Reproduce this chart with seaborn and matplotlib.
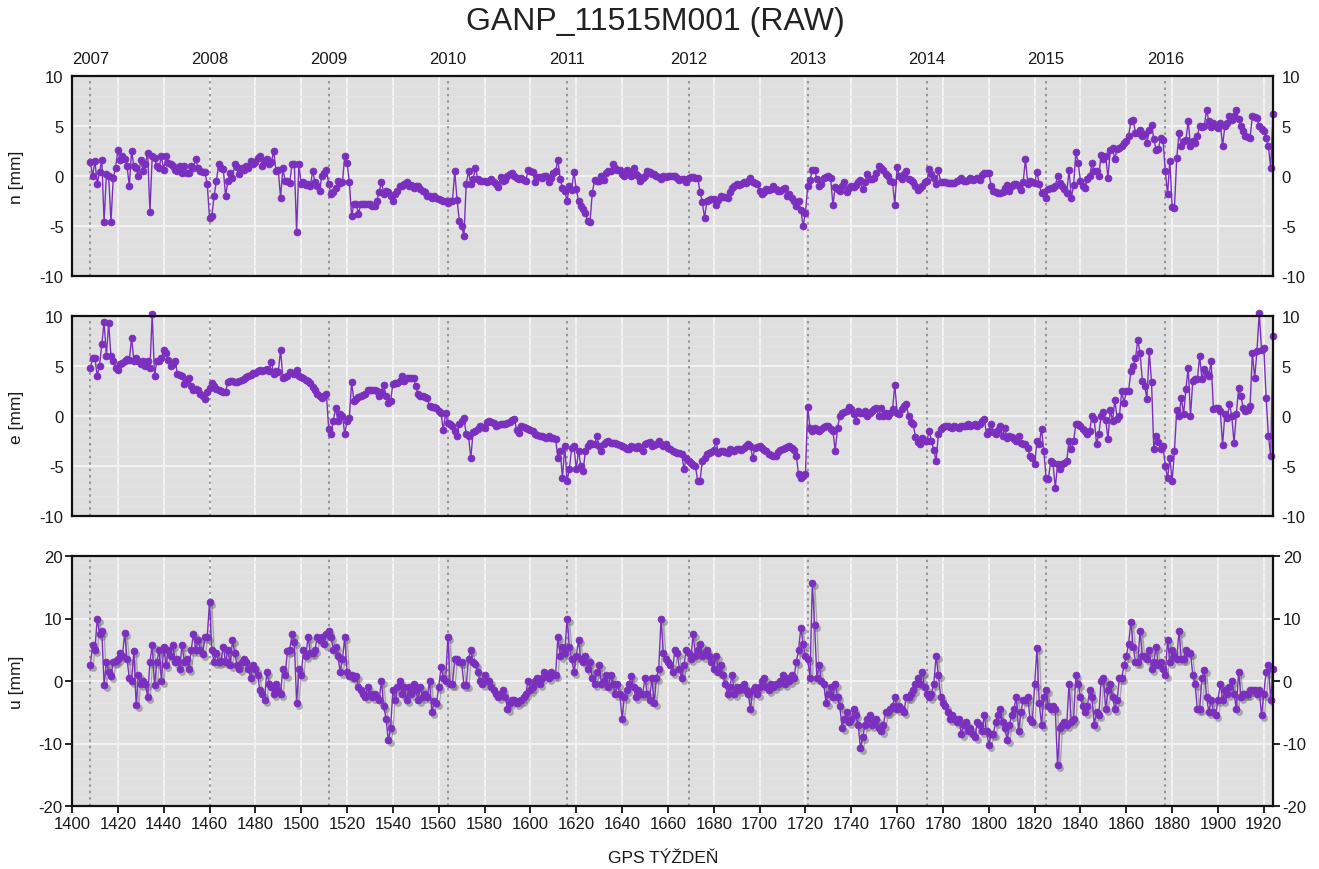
import numpy as np
import pandas as pd
import matplotlib
matplotlib.use("Agg")
import matplotlib.pyplot as plt
import matplotlib.transforms as mtransforms
import seaborn as sns

# ---------------- data (weekly, GPS weeks 1408 ... 1924) ----------------
first_week = 1408

n_mm = [
    1.4, 0.0, 1.5, -0.8, 0.4, 1.6, -4.6, 0.2, 0.0, -4.6,
    -0.2, 0.8, 2.6, 1.6, 2.0, 1.7, 1.0, -1.0, 2.5, 1.0,
    0.8, 0.0, 1.6, 0.5, 1.2, 2.3, -3.6, 2.0, 1.8, 1.0,
    0.8, 2.0, 0.6, 2.0, 1.3, 1.2, 1.0, 0.6, 0.5, 1.0,
    0.3, 1.0, 0.3, 0.3, 1.0, 0.8, 1.7, 0.8, 0.5, 0.4,
    0.4, -0.8, -4.2, -4.0, -2.0, -0.5, 1.2, 0.8, 0.7, -2.0,
    -0.5, 0.3, -0.2, 1.2, 0.9, 0.2, 0.8, 0.6, 1.0, 0.8,
    1.5, 1.2, 1.4, 1.8, 2.0, 1.0, 1.5, 1.7, 1.2, 1.4,
    2.5, 0.5, 0.6, -2.2, 0.8, -0.5, -0.5, -0.7, 1.2, 1.2,
    -5.6, 1.2, -0.8, -0.6, -0.9, -0.8, -1.0, 0.5, -0.6, -1.0,
    -1.5, 0.0, 0.3, 0.6, -0.8, -1.8, -1.6, -1.2, -0.5, -0.7,
    -0.6, 2.0, 1.3, -0.6, -4.0, -2.8, -2.8, -3.8, -2.8, -2.8,
    -2.8, -2.8, -2.8, -3.0, -3.0, -2.5, -1.6, -0.6, -1.8, -1.5,
    -1.6, -2.0, -2.5, -1.8, -1.5, -1.0, -1.0, -0.8, -0.6, -1.0,
    -0.9, -1.2, -1.0, -1.0, -1.3, -1.5, -1.6, -2.0, -2.0, -2.2,
    -2.0, -2.2, -2.3, -2.4, -2.5, -2.5, -2.7, -2.5, -2.5, 0.5,
    -2.4, -4.5, -5.0, -6.0, -0.8, 0.5, -0.8, -0.3, 0.8, -0.3,
    -0.5, -0.5, -0.5, -0.6, -0.5, -0.3, -0.6, -0.8, -1.1, -0.1,
    -0.5, -0.4, 0.0, 0.2, 0.3, 0.0, -0.2, -0.3, -0.2, -0.4,
    -0.5, 0.6, 0.5, 0.4, -0.6, -0.1, -0.1, -0.2, 0.0, 0.0,
    -0.6, -0.2, 0.3, 0.5, 1.6, -0.3, -1.2, -1.5, -2.5, -1.0,
    -1.4, 0.4, -1.3, -2.5, -3.0, -3.3, -3.7, -4.5, -4.6, -1.7,
    -0.4, -0.5, -0.5, 0.0, -0.4, 0.3, 0.5, 0.5, 1.2, 0.8,
    0.6, 0.6, 0.2, 0.0, 0.6, 0.3, 0.0, 0.8, 0.2, 0.0,
    -0.5, -0.2, 0.0, 0.5, 0.4, 0.2, 0.2, 0.0, -0.1, -0.3,
    0.0, -0.1, 0.0, 0.0, 0.0, 0.0, -0.2, -0.4, -0.3, -0.3,
    -0.6, -0.2, -0.1, -0.1, -0.2, -0.2, -1.6, -2.6, -4.2, -2.5,
    -2.4, -2.3, -2.3, -2.9, -2.4, -2.0, -2.1, -2.1, -2.2, -1.6,
    -1.2, -1.0, -0.8, -0.9, -0.8, -0.6, -0.7, -0.5, -0.2, -0.6,
    -0.7, -0.8, -1.5, -1.8, -1.6, -1.3, -1.4, -1.3, -1.0, -1.3,
    -1.5, -1.5, -1.3, -1.2, -2.0, -1.8, -2.2, -2.5, -3.0, -2.5,
    -3.4, -5.0, -3.7, -1.0, -0.4, 0.6, 0.6, -0.3, -1.0, -0.8,
    -0.2, -0.1, 0.0, -0.2, -2.9, -1.1, -1.3, -1.5, -1.0, -0.6,
    -1.6, -1.2, -1.0, -1.1, -0.9, -0.6, -0.4, -1.3, -0.6, 0.2,
    -0.3, -0.3, -0.2, 0.3, 1.0, 0.8, 0.6, 0.2, 0.0, -0.5,
    -0.6, -2.9, 0.9, 0.0, -0.3, 0.2, 0.5, -0.3, -0.4, -0.6,
    -1.0, -1.4, -1.2, -1.0, -0.6, -0.5, 0.7, 0.2, -0.2, -0.8,
    0.6, -0.6, -0.6, -0.6, -0.7, -0.7, -0.7, -0.7, -0.5, -0.4,
    -0.2, -0.5, -0.5, -0.4, -0.2, -0.4, -0.3, -0.2, -0.4, 0.1,
    0.3, 0.3, 0.3, -1.0, -1.5, -1.6, -1.7, -1.7, -1.6, -1.2,
    -0.9, -1.5, -1.0, -0.8, -0.8, -1.0, -1.4, -0.6, 1.7, -0.8,
    -0.5, -0.6, -0.7, 0.4, -0.8, -1.7, -1.6, -2.2, -1.3, -1.2,
    -1.2, -1.0, 0.0, -0.7, -1.0, -1.3, -1.7, 0.6, -2.2, -0.9,
    2.4, 1.3, -0.5, -1.0, -1.2, -0.3, 0.0, 1.3, 0.5, 0.5,
    0.0, 2.1, 1.7, 2.0, -0.2, 2.6, 2.8, 1.7, 2.7, 2.8,
    3.0, 3.3, 3.5, 4.0, 5.5, 5.6, 4.3, 4.3, 4.6, 4.0,
    4.2, 3.3, 4.6, 5.1, 3.7, 2.6, 2.7, 3.8, 3.6, 0.5,
    -1.8, 1.5, -3.1, -3.2, 1.8, 4.3, 3.0, 3.5, 3.6, 5.5,
    3.0, 3.5, 3.3, 4.0, 5.0, 4.9, 5.0, 6.6, 5.5, 4.9,
    5.3, 5.0, 4.8, 5.3, 3.0, 5.0, 5.3, 6.0, 5.6, 6.0,
    6.6, 5.7, 5.0, 4.5, 4.0, 3.9, 3.8, 6.0, 5.9, 5.8,
    5.0, 4.7, 4.5, 3.8, 3.0, 0.8, 6.2,
]

e_mm = [
    4.8, 5.8, 5.8, 4.0, 5.0, 7.2, 9.4, 6.0, 9.3, 6.0,
    5.5, 4.8, 4.6, 5.2, 5.3, 5.5, 5.7, 5.6, 7.8, 5.5,
    5.8, 5.5, 5.2, 5.5, 5.0, 5.5, 4.8, 10.2, 4.0, 5.5,
    5.5, 5.8, 6.6, 6.3, 5.6, 5.0, 5.2, 5.5, 4.2, 4.1,
    4.0, 3.2, 3.6, 3.8, 3.0, 2.6, 2.7, 2.6, 2.2, 2.0,
    1.7, 2.4, 2.8, 3.3, 3.0, 2.7, 2.6, 2.5, 2.4, 2.4,
    3.4, 3.5, 3.5, 3.4, 3.4, 3.5, 3.6, 3.7, 3.9, 4.0,
    4.1, 4.3, 4.3, 4.5, 4.6, 4.5, 4.6, 4.7, 4.5, 5.4,
    4.2, 4.5, 4.4, 6.6, 3.8, 3.9, 4.0, 4.4, 4.3, 4.2,
    4.6, 4.0, 3.9, 3.8, 3.6, 3.5, 3.3, 2.9, 2.6, 2.2,
    2.0, 1.8, 2.0, 2.2, -1.3, -1.8, -0.5, 0.8, -0.5, 0.2,
    0.0, -1.8, -0.5, -0.2, 3.4, 1.5, 1.7, 1.9, 2.0, 2.1,
    2.2, 2.6, 2.6, 2.6, 2.6, 2.5, 2.0, 2.4, 3.1, 2.0,
    1.3, 1.5, 3.2, 3.3, 3.3, 3.5, 4.0, 3.5, 3.8, 3.8,
    3.8, 3.8, 3.0, 2.2, 2.0, 2.0, 1.9, 1.8, 1.0, 0.9,
    0.9, 0.8, 0.5, 0.3, -1.4, 0.3, -0.7, -0.8, -1.0, -1.5,
    -2.0, -0.8, -0.5, -0.2, -1.8, -2.0, -4.2, -1.6, -1.5, -1.3,
    -1.0, -1.1, -1.2, -0.6, -0.5, -0.6, -0.7, -1.0, -0.9, -0.8,
    -0.8, -0.8, -0.7, -0.6, -0.4, -0.3, -1.4, -1.7, -1.0, -1.1,
    -1.2, -1.3, -1.4, -1.5, -1.8, -1.9, -2.0, -2.0, -2.1, -2.2,
    -2.0, -2.2, -2.2, -2.3, -4.2, -3.5, -6.2, -3.0, -6.5, -5.3,
    -3.2, -3.0, -5.3, -3.5, -5.0, -5.5, -3.5, -3.0, -2.7, -2.8,
    -2.8, -2.0, -3.0, -3.5, -2.8, -2.6, -2.5, -2.7, -2.7, -2.7,
    -2.8, -2.9, -3.0, -3.1, -3.3, -3.3, -3.0, -3.1, -3.2, -3.0,
    -3.2, -3.5, -2.8, -2.7, -2.6, -3.0, -2.9, -2.8, -2.5, -2.8,
    -3.0, -2.8, -3.2, -3.3, -3.5, -3.6, -3.7, -3.7, -3.8, -5.3,
    -4.2, -4.5, -4.7, -4.9, -5.0, -6.5, -6.5, -4.5, -4.2, -3.8,
    -3.7, -3.6, -3.4, -2.5, -3.7, -3.5, -3.5, -3.6, -3.7, -3.3,
    -3.4, -3.5, -3.3, -3.3, -3.4, -3.2, -3.0, -2.8, -3.0, -4.2,
    -3.2, -3.1, -3.0, -3.2, -3.4, -3.5, -3.8, -3.9, -4.0, -4.0,
    -3.6, -3.4, -3.3, -3.2, -3.1, -3.0, -3.2, -3.4, -4.0, -5.8,
    -6.2, -6.0, -5.8, 0.9, -1.2, -1.5, -1.2, -1.4, -1.5, -1.3,
    -1.1, -1.0, -1.0, -1.3, -1.5, -3.5, -1.2, 0.0, 0.3, 0.4,
    0.5, 0.9, 0.7, 0.2, -0.5, 0.5, 0.3, 0.3, 0.5, 0.0,
    0.3, 0.5, 0.7, 0.8, 0.0, 0.8, 0.0, 0.3, 0.0, 0.3,
    0.7, 3.1, 0.3, 0.2, 0.7, 1.0, 1.2, 0.0, -0.6, -0.8,
    -2.1, -2.6, -2.8, -2.2, -2.5, -2.5, -1.5, -2.5, -3.4, -4.5,
    -1.8, -1.3, -1.1, -1.0, -1.0, -1.1, -1.2, -1.0, -1.1, -1.2,
    -1.0, -1.0, -1.0, -0.8, -1.0, -0.9, -0.8, -1.0, -0.8, -0.5,
    -0.3, -1.8, -1.5, -0.8, -1.6, -1.8, -1.4, -1.0, -2.0, -1.2,
    -2.2, -2.0, -2.1, -2.3, -2.5, -2.0, -2.7, -2.8, -2.8, -3.2,
    -4.0, -4.2, -4.8, -2.5, -2.8, -1.3, -3.5, -6.2, -6.3, -4.5,
    -4.7, -7.2, -4.8, -5.3, -4.8, -4.7, -4.5, -2.5, -3.3, -2.5,
    -0.8, -0.8, -1.0, -1.3, -1.5, -1.8, -1.5, 0.0, -0.3, -2.8,
    -1.8, 0.0, 0.4, -0.4, -2.3, 0.6, -0.5, 1.6, -0.3, 0.0,
    2.5, 1.3, 2.5, 2.5, 4.5, 5.0, 5.8, 7.6, 6.3, 3.5,
    3.0, 1.7, 6.5, 3.4, -3.3, -2.0, -2.6, -3.3, -3.0, -5.0,
    -6.2, -4.2, -6.5, -3.5, 0.6, 0.0, 1.8, 0.2, 2.7, 4.8,
    0.0, 3.5, 3.7, 3.7, 6.0, 3.7, 4.7, 4.2, 4.0, 5.5,
    0.7, 0.8, 0.8, 0.5, -2.9, 0.2, -0.2, 1.2, 0.0, -2.7,
    0.2, 2.8, 2.0, 0.8, 0.5, 0.6, 1.0, 6.3, 3.8, 6.5,
    10.3, 6.6, 6.8, 1.8, -2.0, -4.0, 8.0,
]

u_mm = [
    2.5, 5.8, 5.0, 10.0, 7.5, 8.0, -0.6, 3.0, 1.5, 0.8,
    3.0, 3.2, 3.5, 4.5, 4.0, 7.7, 3.5, 0.5, 0.0, 4.8,
    -3.9, 1.0, -0.5, 0.0, -0.5, -2.5, 3.0, 5.8, -0.7, 3.0,
    5.0, 0.0, 5.5, 2.5, 5.0, 4.0, 5.8, 3.0, 3.5, 2.0,
    5.8, 3.0, 3.5, 2.0, 5.0, 7.5, 5.0, 6.5, 5.0, 4.3,
    7.0, 7.0, 12.6, 5.0, 3.0, 4.5, 3.0, 3.2, 5.5, 3.0,
    5.0, 2.5, 6.5, 4.5, 2.5, 2.0, 3.0, 3.5, 3.0, 2.0,
    0.5, 2.5, 2.0, 1.0, -1.5, -2.0, -3.0, 1.5, -0.5, -1.0,
    -2.0, -0.5, -1.5, -2.0, 2.0, 1.0, 4.8, 5.0, 7.5, 6.3,
    -3.5, 2.0, 1.0, 5.0, 4.0, 7.0, 4.5, 4.5, 5.0, 7.0,
    6.5, 7.0, 6.0, 7.5, 8.0, 7.0, 5.0, 5.5, 4.0, 1.5,
    3.5, 7.0, 1.5, 0.8, 1.0, 0.5, 0.8, -1.0, -1.5, -2.0,
    -2.5, -1.0, -2.0, -2.5, -2.0, -2.5, -3.0, 0.0, -4.0, -6.0,
    -9.5, -7.5, -1.5, -3.0, -1.0, 0.0, -2.0, -1.0, -3.0, -1.0,
    -2.0, -0.5, -1.5, -3.0, -1.0, -2.5, -2.0, -2.5, 0.0, -5.0,
    -3.2, -3.5, -1.0, 2.2, 0.5, 0.0, 7.0, -0.5, -0.5, 3.5,
    3.5, 3.0, 3.0, -0.7, -0.7, 3.5, 5.0, 3.0, 2.8, 1.5,
    0.0, -0.5, 1.0, 0.0, 0.0, -1.0, -1.5, -2.0, -2.5, -2.0,
    -1.5, -2.5, -4.5, -3.5, -3.0, -3.0, -3.5, -3.2, -3.0, -2.5,
    -2.0, 0.0, -1.5, -1.0, 0.0, 0.5, -0.5, 0.5, 1.5, 1.0,
    0.5, 1.5, 1.0, 1.0, 7.0, 4.0, 5.5, 4.5, 10.0, 5.5,
    3.5, 1.5, 4.0, 6.5, 3.5, 3.0, 4.0, 2.0, 3.0, 0.5,
    -0.5, 1.5, 2.5, -0.5, 0.0, 1.0, -1.0, 1.0, -0.5, -2.0,
    -0.5, -2.0, -6.0, -2.5, -1.5, -0.5, 0.8, -1.0, -2.5, -1.5,
    -2.0, -2.0, 0.5, -2.0, -3.0, 0.5, -3.5, 0.5, 2.0, 10.0,
    4.5, 3.5, 3.0, 2.5, 1.5, 5.0, 4.5, 2.0, 0.5, 2.5,
    5.0, 4.5, 3.5, 7.5, 4.0, 5.0, 6.0, 4.0, 4.5, 5.0,
    4.0, 3.0, 2.0, 4.0, 1.5, 2.5, 1.0, -0.5, -2.0, -1.0,
    1.0, -2.0, -1.0, -1.5, -1.0, -0.5, -1.5, -2.0, -4.5, -1.5,
    -1.0, -2.0, -1.0, 0.0, 0.5, -1.0, -1.5, -0.5, -1.0, -0.5,
    -0.5, 0.0, 1.0, -0.5, 0.5, 0.0, 1.0, 0.5, 3.0, 5.0,
    8.5, 6.0, 4.0, 3.5, 0.5, 15.7, 9.0, 0.5, 2.5, 0.0,
    -0.5, -3.5, -2.0, -1.0, -2.5, -0.5, -2.5, -4.0, -7.5, -6.0,
    -5.0, -6.5, -6.0, -4.5, -5.5, -7.0, -10.7, -9.0, -7.0, -6.0,
    -5.5, -7.0, -6.5, -6.0, -7.5, -8.0, -7.0, -5.0, -5.0, -4.5,
    -4.0, -2.5, -4.5, -4.0, -4.5, -5.0, -2.5, -2.5, -2.0, -1.5,
    -0.5, 0.5, -0.5, 1.5, -1.0, -2.0, -2.5, -2.0, -0.5, 4.0,
    1.0, -2.5, -3.5, -4.0, -5.0, -6.0, -5.5, -6.0, -6.5, -6.0,
    -8.5, -7.0, -6.5, -8.0, -7.5, -8.5, -9.0, -6.5, -7.0, -8.0,
    -5.5, -8.0, -10.2, -8.5, -8.5, -6.5, -5.5, -4.5, -6.5, -7.5,
    -9.5, -7.0, -5.5, -4.5, -2.5, -8.0, -5.0, -3.0, -3.0, -2.5,
    -6.0, -6.5, -0.5, 5.3, -3.5, -7.0, -2.5, -1.5, -4.0, -4.5,
    -4.0, -4.5, -13.5, -7.5, -7.0, -6.5, -7.0, -0.5, -6.5, -6.0,
    1.0, -0.5, -2.5, -4.0, -5.0, -4.0, -1.5, -2.5, -7.0, -5.0,
    -5.5, 0.0, 0.5, -4.5, -1.5, -0.5, -2.5, -4.5, -3.0, 0.5,
    0.5, 2.5, 4.0, 6.0, 9.5, 5.5, 3.0, 3.0, 8.0, 4.0,
    4.0, 3.5, 5.0, 2.0, 3.0, 5.5, 2.5, 3.0, 2.0, 1.0,
    6.5, 3.0, 5.0, 4.0, 3.5, 8.0, 3.5, 3.5, 5.0, 4.5,
    4.5, 1.0, -0.5, -4.5, -4.5, 0.5, 1.8, -2.5, -5.0, -3.0,
    -5.0, -5.5, -3.0, -0.5, -3.0, -1.5, -2.0, -1.0, 0.0, -2.0,
    -4.5, 1.5, -2.5, -2.0, -2.0, -2.0, -1.5, -1.5, -1.5, -2.0,
    -1.5, -5.5, -2.0, 1.5, 2.5, -3.0, 2.0,
]

year_labels = ["2007", "2008", "2009", "2010", "2011", "2012", "2013", "2014", "2015", "2016"]
year_weeks = [1408, 1460, 1512, 1564, 1616, 1669, 1721, 1773, 1825, 1877]
week_ticks = list(range(1400, 1921, 20))
title = "GANP_11515M001 (RAW)"
x_title = "GPS TÝŽDEŇ"
panel_labels = {"n": "n [mm]", "e": "e [mm]", "u": "u [mm]"}

# ---------------- build frame ----------------
weeks = np.arange(first_week, first_week + len(n_mm))
df = pd.DataFrame({"week": weeks, "n": n_mm, "e": e_mm, "u": u_mm})

sns.set_theme(style="darkgrid")
plt.rcParams["font.family"] = ["Liberation Sans", "DejaVu Sans"]
plt.rcParams["axes.unicode_minus"] = False

W_PX, H_PX = 1319, 870
fig = plt.figure(figsize=(W_PX / 100, H_PX / 100), dpi=100)
fig.patch.set_facecolor("white")

left = 72 / W_PX
width = 1201 / W_PX
boxes = {
    "n": (left, 1 - 277 / H_PX, width, 200 / H_PX),
    "e": (left, 1 - 517 / H_PX, width, 200 / H_PX),
    "u": (left, 1 - 807 / H_PX, width, 250 / H_PX),
}
limits = {"n": (-10, 10, 5, 1.0), "e": (-10, 10, 5, 1.0), "u": (-20, 20, 10, 1.5)}
purple = "#7B2FBE"
txt_col = "#1a1a1a"

axes = {}
for key in ["n", "e", "u"]:
    ax = fig.add_axes(boxes[key])
    axes[key] = ax
    ax.set_facecolor("#dfdfdf")
    lo, hi, step, minor = limits[key]

    if key == "u":
        shadow = mtransforms.offset_copy(ax.transData, fig=fig, x=2.5, y=-3, units="dots")
        sns.lineplot(data=df, x="week", y=key, ax=ax, estimator=None, color="#6e6e6e",
                     lw=1.0, marker="o", markersize=5, markeredgewidth=0, alpha=0.5,
                     transform=shadow, zorder=2)
    sns.lineplot(data=df, x="week", y=key, ax=ax, estimator=None, color=purple,
                 lw=1.0, marker="o", markersize=5, markeredgecolor=purple,
                 markeredgewidth=0.5, zorder=3, clip_on=False)

    ax.set_xlim(1400, 1924)
    ax.set_ylim(lo, hi)
    ax.set_xticks(week_ticks)
    ax.set_yticks(np.arange(lo, hi + 0.1, step))
    ax.set_yticks(np.arange(lo, hi + 0.01, minor), minor=True)
    ax.grid(which="major", color="#f3f3f3", lw=1.4, zorder=0)
    ax.grid(which="minor", axis="y", color="#e3e3e3", lw=0.8, zorder=0)
    ax.set_axisbelow(True)

    for yw in year_weeks:
        ax.axvline(yw, color="#808080", lw=1.1, ls=(0, (1.6, 2.6)), zorder=1.5)

    for sp in ax.spines.values():
        sp.set_visible(True)
        sp.set_color("#111111")
        sp.set_linewidth(1.6)
        sp.set_zorder(4)

    ax.set_xlabel("")
    ax.set_ylabel(panel_labels[key], fontsize=12.5, color=txt_col)
    ax.yaxis.set_label_coords(-0.040, 0.5)
    ax.tick_params(which="minor", length=0)

    if key == "u":
        ax.tick_params(axis="both", which="major", length=5, width=1.2, color="black",
                       direction="out", labelsize=12, labelcolor=txt_col, pad=2,
                       left=True, right=True, bottom=True, labelleft=True,
                       labelright=True, labelbottom=True)
    else:
        ax.tick_params(axis="both", which="major", length=0, labelsize=12,
                       labelcolor=txt_col, pad=6, labelleft=True, labelright=True,
                       labelbottom=False)

# year labels above the top panel
ax_top = axes["n"]
blend = mtransforms.blended_transform_factory(ax_top.transData, ax_top.transAxes)
for lab, yw in zip(year_labels, year_weeks):
    ax_top.text(yw, 1 + 17 / 200, lab, transform=blend, ha="center", va="center",
                fontsize=12, color=txt_col)

fig.text(655 / W_PX, 1 - 22 / H_PX, title, ha="center", va="center",
         fontsize=23, color="#222222")
fig.text(663 / W_PX, 1 - 859 / H_PX, x_title, ha="center", va="center",
         fontsize=12.5, color=txt_col)

fig.savefig("out.png", dpi=100, facecolor="white")
